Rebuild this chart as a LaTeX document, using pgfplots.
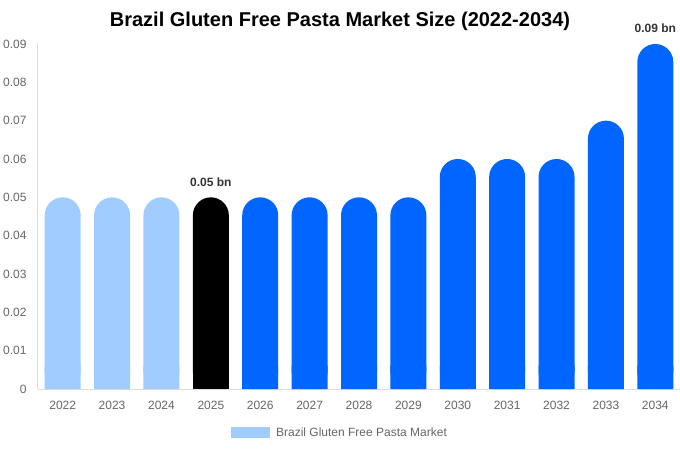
\documentclass[border=0pt]{standalone}
\usepackage{fontspec}
\setmainfont{Liberation Sans}
\usepackage{pgfplots}
\pgfplotsset{compat=1.18}
\definecolor{lightb}{HTML}{A0CCFF}
\definecolor{brightb}{HTML}{0066FF}
\definecolor{axisgray}{HTML}{DDDDDD}
\definecolor{ticktext}{HTML}{666666}
\definecolor{labeltext}{HTML}{333333}
\begin{document}
\begin{tikzpicture}[x=1pt,y=1pt]
\path[use as bounding box] (0,0) rectangle (680,450);
\begin{axis}[
  at={(38pt,61pt)}, anchor=south west,
  scale only axis, width=642pt, height=345pt,
  xmin=-0.5, xmax=12.5, ymin=0, ymax=0.09,
  axis x line*=bottom, axis y line*=left,
  axis line style={draw=axisgray, line width=1pt},
  major tick length=0pt,
  scaled y ticks=false,
  xtick={0,1,2,3,4,5,6,7,8,9,10,11,12},
  xticklabels={2022,2023,2024,2025,2026,2027,2028,2029,2030,2031,2032,2033,2034},
  ytick={0,0.01,0.02,0.03,0.04,0.05,0.06,0.07,0.08,0.09},
  yticklabels={0,0.01,0.02,0.03,0.04,0.05,0.06,0.07,0.08,0.09},
  tick label style={font=\fontsize{12}{14}\selectfont, text=ticktext},
  yticklabel style={anchor=east, xshift=-8pt},
  xticklabel style={anchor=north, yshift=-9pt},
  ybar, bar width=36pt,
  clip=false,
  legend style={at={(0.4704,-0.1275)}, anchor=center, draw=none, fill=none,
    font=\fontsize{12}{14}\selectfont, text=ticktext},
  legend image code/.code={\fill[lightb, sharp corners] (0pt,-5.5pt) rectangle (39pt,5.5pt); \path (43pt,0pt);},
]
\addplot[ybar, bar shift=0pt, fill=lightb, draw=none, rounded corners=18pt]
  coordinates {(0,0.05)(1,0.05)(2,0.05)};
\addlegendentry{Brazil Gluten Free Pasta Market}
\addplot[ybar, bar shift=0pt, fill=black, draw=none, rounded corners=18pt, forget plot]
  coordinates {(3,0.05)};
\addplot[ybar, bar shift=0pt, fill=brightb, draw=none, rounded corners=18pt, forget plot]
  coordinates {(4,0.05)(5,0.05)(6,0.05)(7,0.05)(8,0.06)(9,0.06)(10,0.06)(11,0.07)(12,0.09)};
% square bottoms
\addplot[ybar, bar shift=0pt, fill=lightb, draw=none, forget plot]
  coordinates {(0,0.006)(1,0.006)(2,0.006)};
\addplot[ybar, bar shift=0pt, fill=black, draw=none, forget plot]
  coordinates {(3,0.006)};
\addplot[ybar, bar shift=0pt, fill=brightb, draw=none, forget plot]
  coordinates {(4,0.006)(5,0.006)(6,0.006)(7,0.006)(8,0.006)(9,0.006)(10,0.006)(11,0.006)(12,0.006)};
\node[anchor=base, yshift=11pt, font=\bfseries\fontsize{12}{14}\selectfont, text=labeltext] at (axis cs:3,0.05) {0.05 bn};
\node[anchor=base, yshift=11pt, font=\bfseries\fontsize{12}{14}\selectfont, text=labeltext] at (axis cs:12,0.09) {0.09 bn};
\end{axis}
\node[font=\bfseries\fontsize{20}{24}\selectfont] at (340,429) {Brazil Gluten Free Pasta Market Size (2022-2034)};
\end{tikzpicture}
\end{document}
